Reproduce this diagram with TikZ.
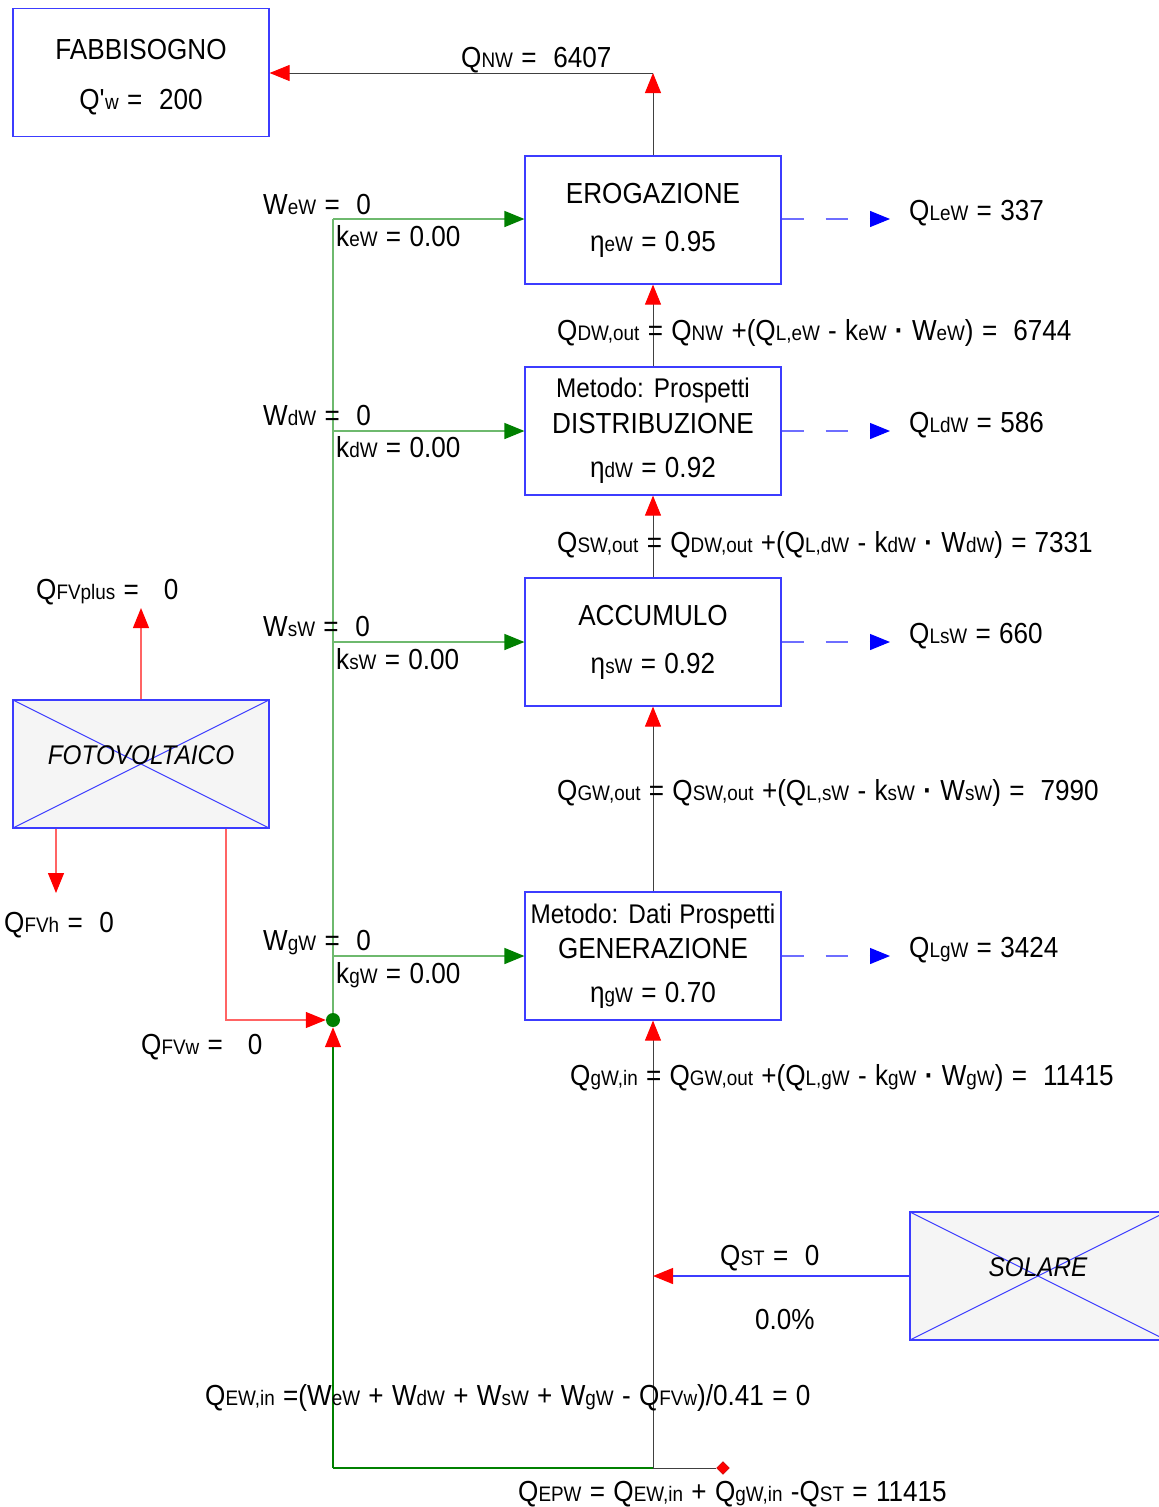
\documentclass[tikz,border=0pt]{standalone}
\usepackage{fontspec}
\setmainfont{Liberation Sans}[FakeStretch=0.9, WordSpace=1.15]
\usetikzlibrary{positioning,arrows.meta,shapes.geometric}

\definecolor{grn}{RGB}{0,128,0}
\definecolor{lgrn}{RGB}{110,185,110}
\definecolor{lred}{RGB}{255,100,100}
\definecolor{lblu}{RGB}{110,110,255}
\definecolor{bbd}{RGB}{60,60,255}

% small index letters, on the baseline
\newcommand\sbt[1]{{\fontsize{21}{21}\selectfont #1}}
% product dot
\newcommand\pdot{{\bfseries·}}
% method line in the boxes
\newcommand\mtd[1]{{\fontsize{27}{34}\selectfont #1}}

\begin{document}
\begin{tikzpicture}[
  x=1pt, y=-1pt,
  font=\fontsize{29}{34}\selectfont,
  blk/.style={rectangle, draw=bbd, line width=1.2pt, minimum width=256pt,
              minimum height=128pt, inner sep=0pt, align=center, fill=white},
  xbox/.style={blk, fill=black!4, font=\fontsize{27}{34}\selectfont\itshape,
              text height=0pt, text depth=0pt,
              path picture={\draw[bbd, line width=1pt]
                (path picture bounding box.north west) -- (path picture bounding box.south east)
                (path picture bounding box.south west) -- (path picture bounding box.north east);}},
  lbl/.style={anchor=base west, inner sep=0pt},
  qline/.style={draw=black!75, line width=1pt, -{Triangle[length=20pt,width=16pt,red]}},
  rline/.style={draw=lred, line width=1.2pt, -{Triangle[length=20pt,width=16pt,red]}},
  gline/.style={draw=lgrn, line width=1.5pt, -{Triangle[length=20pt,width=16pt,grn]}},
  lline/.style={draw=lblu, line width=1.2pt, dash pattern=on 22pt off 22pt,
              -{Triangle[length=20pt,width=16pt,blue]}},
  sline/.style={draw=bbd, line width=1.2pt, -{Triangle[length=20pt,width=16pt,red]}},
  dotn/.style={circle, fill=grn, inner sep=0pt, minimum size=14pt},
  epwn/.style={diamond, fill=red, draw=red!70!black, inner sep=0pt, minimum size=13pt}
]
\useasboundingbox (0,0) rectangle (1159,1507);

% boxes
\node[blk] (fab) at (141,72.5) {FABBISOGNO\rule{0pt}{29pt}\\[16pt]Q\textquotesingle\sbt{w} =\ \ 200};
\node[blk] (ero) at (653,220) {EROGAZIONE\\[14pt]η\sbt{eW} = 0.95};
\node[blk] (dis) at (653,431) {\mtd{Metodo: Prospetti}\\[2pt]DISTRIBUZIONE\\[10pt]η\sbt{dW} = 0.92};
\node[blk] (acc) at (653,642) {ACCUMULO\\[14pt]η\sbt{sW} = 0.92};
\node[blk] (gen) at (653,956) {\mtd{Metodo: Dati Prospetti}\\[1pt]GENERAZIONE\\[10pt]η\sbt{gW} = 0.70};
\node[xbox] (fv)  at (141,764) {FOTOVOLTAICO};
\node[xbox] (sol) at (1038,1276) {SOLARE};

% points
\coordinate (nTurn) at (653,73);
\coordinate (eroL) at (890,219);
\coordinate (disL) at (890,431);
\coordinate (accL) at (890,642);
\coordinate (genL) at (890,956);
\coordinate (busE) at (333,219);
\coordinate (busD) at (333,431);
\coordinate (busS) at (333,642);
\coordinate (busG) at (333,956);
\coordinate (busB) at (333,1468);
\coordinate (mainB) at (653,1468);
\coordinate (fvP) at (141,608);
\coordinate (fvH) at (56,893);
\coordinate (solT) at (653,1276);
\node[dotn] (dot) at (333,1020) {};
\node[epwn] (epw) at (723,1468) {};

% main chain
\draw[qline] (ero.north) -- (nTurn);
\draw[qline] (nTurn) -- (fab.east |- nTurn);
\draw[qline] (dis.north) -- (ero.south);
\draw[qline] (acc.north) -- (dis.south);
\draw[qline] (gen.north) -- (acc.south);
\draw[qline] (mainB) -- (gen.south);

% losses
\draw[lline] (ero.east |- eroL) -- (eroL);
\draw[lline] (dis.east) -- (disL);
\draw[lline] (acc.east) -- (accL);
\draw[lline] (gen.east) -- (genL);

% auxiliary energy
\draw[lgrn, line width=1.5pt] (busE) -- (dot.north);
\draw[gline] (busE) -- (ero.west |- busE);
\draw[gline] (busD) -- (dis.west);
\draw[gline] (busS) -- (acc.west);
\draw[gline] (busG) -- (gen.west);
\draw[grn, line width=1.2pt, -{Triangle[length=20pt,width=16pt,red]}] (busB) -- (dot.south);
\draw[grn, line width=1.2pt] (busB) -- (mainB);
\draw[black!75, line width=1pt] (mainB) -- (epw);

% photovoltaic
\draw[rline] (fv.north) -- (fvP);
\draw[rline] ([xshift=-85pt]fv.south) -- (fvH);
\draw[rline] ([xshift=85pt]fv.south) |- (dot.west);

% solar
\draw[sline] (sol.west) -- (solT);

% labels
\node[lbl] (lQnw) at (461,67) {Q\sbt{NW} =\ \ 6407};
\node[lbl] (lQle) at (909,220) {Q\sbt{LeW} = 337};
\node[lbl] (lQld) at (909,432) {Q\sbt{LdW} = 586};
\node[lbl] (lQls) at (909,643) {Q\sbt{LsW} = 660};
\node[lbl] (lQlg) at (909,957) {Q\sbt{LgW} = 3424};

\node[lbl] (lWe) at (263,214) {W\sbt{eW} =\ \ 0};
\node[lbl] (lke) at (336,246) {k\sbt{eW} = 0.00};
\node[lbl] (lWd) at (263,425) {W\sbt{dW} =\ \ 0};
\node[lbl] (lkd) at (336,457) {k\sbt{dW} = 0.00};
\node[lbl] (lWs) at (263,636) {W\sbt{sW} =\ \ 0};
\node[lbl] (lks) at (336,669) {k\sbt{sW} = 0.00};
\node[lbl] (lWg) at (263,950) {W\sbt{gW} =\ \ 0};
\node[lbl] (lkg) at (336,983) {k\sbt{gW} = 0.00};

\node[lbl] (fDW) at (557,340) {Q\sbt{DW,out} = Q\sbt{NW} +(Q\sbt{L,eW} - k\sbt{eW} \pdot{} W\sbt{eW}) =\hspace{16pt}6744};
\node[lbl] (fSW) at (557,552) {Q\sbt{SW,out} = Q\sbt{DW,out} +(Q\sbt{L,dW} - k\sbt{dW} \pdot{} W\sbt{dW}) =\hspace{8pt}7331};
\node[lbl] (fGW) at (557,800) {Q\sbt{GW,out} = Q\sbt{SW,out} +(Q\sbt{L,sW} - k\sbt{sW} \pdot{} W\sbt{sW}) =\hspace{16pt}7990};
\node[lbl] (fgW) at (570,1085) {Q\sbt{gW,in} = Q\sbt{GW,out} +(Q\sbt{L,gW} - k\sbt{gW} \pdot{} W\sbt{gW}) =\hspace{16pt}11415};

\node[lbl] (lFVp) at (36,599) {Q\sbt{FVplus} =\ \ \ 0};
\node[lbl] (lFVh) at (4,932) {Q\sbt{FVh} =\ \ 0};
\node[lbl] (lFVw) at (141,1054) {Q\sbt{FVw} =\ \ \ 0};

\node[lbl] (lQst) at (720,1265) {Q\sbt{ST} =\ \ 0};
\node[lbl] (lpct) at (755,1329) {0.0\%};
\node[lbl] (fEW) at (205,1405) {Q\sbt{EW,in} =(W\sbt{eW} + W\sbt{dW} + W\sbt{sW} + W\sbt{gW} - Q\sbt{FVw})/0.41 =\ 0};
\node[lbl] (fEPW) at (518,1501) {Q\sbt{EPW} = Q\sbt{EW,in} + Q\sbt{gW,in} -Q\sbt{ST} =\ 11415};
\end{tikzpicture}
\end{document}
